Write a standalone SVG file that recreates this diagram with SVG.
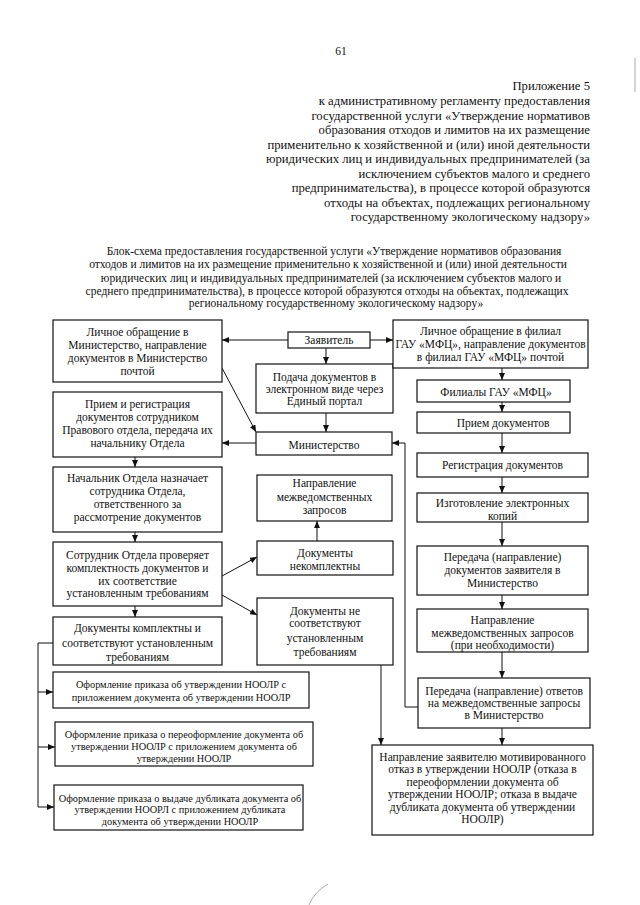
<svg xmlns="http://www.w3.org/2000/svg" width="640" height="905" viewBox="0 0 640 905">
<defs>
<marker id="ah" markerWidth="7" markerHeight="6" refX="7" refY="3" orient="auto" markerUnits="userSpaceOnUse"><path d="M0,0 L7,3 L0,6 z" fill="#111"/></marker>
<style>
.b{fill:#fff;stroke:#111;stroke-width:1.2}
.t{font-family:"Liberation Serif","Times New Roman",serif;font-size:11.5px;fill:#111;text-anchor:middle}
.h{font-family:"Liberation Serif","Times New Roman",serif;font-size:12.7px;fill:#111;text-anchor:end}
.ti{font-family:"Liberation Serif","Times New Roman",serif;font-size:11.5px;fill:#111;text-anchor:middle}
.s{font-size:10.3px}
.c{fill:none;stroke:#111;stroke-width:1}
.a{marker-end:url(#ah)}
</style>
</defs>
<rect width="640" height="905" fill="#fff"/>
<g id="artifacts" fill="none" stroke="#aaa" stroke-width="1">
<path d="M635,58 V92"/>
<path d="M328,884 Q314,892 309,905"/>
</g>
<g id="header">
<text class="ti" x="341" y="55" font-size="13">61</text>
<text class="h" x="590" y="89.5">Приложение 5</text>
<text class="h" x="590" y="105">к административному регламенту предоставления</text>
<text class="h" x="590" y="119.5">государственной услуги «Утверждение нормативов</text>
<text class="h" x="590" y="134">образования отходов и лимитов на их размещение</text>
<text class="h" x="590" y="148.5">применительно к хозяйственной и (или) иной деятельности</text>
<text class="h" x="590" y="163">юридических лиц и индивидуальных предпринимателей (за</text>
<text class="h" x="590" y="177.5">исключением субъектов малого и среднего</text>
<text class="h" x="590" y="192">предпринимательства), в процессе которой образуются</text>
<text class="h" x="590" y="206.5">отходы на объектах, подлежащих региональному</text>
<text class="h" x="590" y="221">государственному экологическому надзору»</text>
</g>
<g id="title">
<text class="ti" x="334" y="255">Блок-схема предоставления государственной услуги «Утверждение нормативов образования</text>
<text class="ti" x="328" y="268">отходов и лимитов на их размещение применительно к хозяйственной и (или) иной деятельности</text>
<text class="ti" x="331" y="282">юридических лиц и индивидуальных предпринимателей (за исключением субъектов малого и</text>
<text class="ti" x="327" y="295">среднего предпринимательства), в процессе которой образуются отходы на объектах, подлежащих</text>
<text class="ti" x="336" y="307">региональному государственному экологическому надзору»</text>
</g>
<g id="connectors">
<path class="c a" d="M288,340 H222"/>
<path class="c a" d="M370,340 H393"/>
<path class="c a" d="M326,348 V364"/>
<path class="c a" d="M326,413 V432"/>
<path class="c a" d="M222,368 L256,432"/>
<path class="c a" d="M256,443 H222"/>
<path class="c a" d="M418,707 H405 V443 H392"/>
<path class="c a" d="M135,457 V467"/>
<path class="c a" d="M135,532 V542"/>
<path class="c a" d="M135,606 V617"/>
<path class="c a" d="M317,541 V521"/>
<path class="c a" d="M222,576 L257,557"/>
<path class="c a" d="M222,595 L257,615"/>
<path class="c a" d="M381,665 V745"/>
<path class="c" d="M53,643 H38 V807"/>
<path class="c a" d="M38,692 H53"/>
<path class="c a" d="M38,747 H55"/>
<path class="c a" d="M38,807 H54"/>
<path class="c a" d="M502,368 V380"/>
<path class="c a" d="M502,402 V412"/>
<path class="c a" d="M502,433 V453"/>
<path class="c a" d="M502,477 V493"/>
<path class="c a" d="M502,522 V546"/>
<path class="c a" d="M502,595 V609"/>
<path class="c a" d="M502,652 V678"/>
<path class="c a" d="M502,728 V745"/>
</g>
<g id="n-lichnoe-min">
<rect class="b" x="53" y="320" width="169" height="62"/>
<text class="t" x="137.5" y="336">Личное обращение в</text>
<text class="t" x="137.5" y="349">Министерство, направление</text>
<text class="t" x="137.5" y="362">документов в Министерство</text>
<text class="t" x="137.5" y="375">почтой</text>
</g>
<g id="n-priem-reg">
<rect class="b" x="53" y="392" width="169" height="65"/>
<text class="t" x="137.5" y="408">Прием и регистрация</text>
<text class="t" x="137.5" y="421">документов сотрудником</text>
<text class="t" x="137.5" y="434">Правового отдела, передача их</text>
<text class="t" x="137.5" y="447">начальнику Отдела</text>
</g>
<g id="n-nachalnik">
<rect class="b" x="53" y="467" width="169" height="65"/>
<text class="t" x="137.5" y="482">Начальник Отдела назначает</text>
<text class="t" x="137.5" y="495">сотрудника Отдела,</text>
<text class="t" x="137.5" y="508">ответственного за</text>
<text class="t" x="137.5" y="521">рассмотрение документов</text>
</g>
<g id="n-sotrudnik">
<rect class="b" x="53" y="542" width="169" height="64"/>
<text class="t" x="137.5" y="559">Сотрудник Отдела проверяет</text>
<text class="t" x="137.5" y="572">комплектность документов и</text>
<text class="t" x="137.5" y="585">их соответствие</text>
<text class="t" x="137.5" y="597">установленным требованиям</text>
</g>
<g id="n-komplektny">
<rect class="b" x="53" y="617" width="169" height="48"/>
<text class="t" x="137.5" y="632" font-size="12">Документы комплектны и</text>
<text class="t" x="137.5" y="647">соответствуют установленным</text>
<text class="t" x="137.5" y="661" font-size="13">требованиям</text>
</g>
<g id="n-prikaz-utv">
<rect class="b" x="53" y="672" width="256" height="36"/>
<text class="t s" x="181" y="688">Оформление приказа об утверждении НООЛР с</text>
<text class="t s" x="181" y="701">приложением документа об утверждении НООЛР</text>
</g>
<g id="n-prikaz-pereof">
<rect class="b" x="55" y="722" width="258" height="44"/>
<text class="t s" x="184" y="738">Оформление приказа о переоформление документа об</text>
<text class="t s" x="184" y="750">утверждении НООЛР с приложением документа об</text>
<text class="t s" x="184" y="762">утверждении НООЛР</text>
</g>
<g id="n-prikaz-dubl">
<rect class="b" x="54" y="785" width="249" height="45"/>
<text class="t s" x="180" y="802" font-size="10.1">Оформление приказа о выдаче дубликата документа об</text>
<text class="t s" x="180" y="813">утверждении НООРЛ с приложением дубликата</text>
<text class="t s" x="180" y="825">документа об утверждении НООЛР</text>
</g>
<g id="n-zayavitel">
<rect class="b" x="288" y="332" width="82" height="16"/>
<text class="t" x="329" y="344">Заявитель</text>
</g>
<g id="n-podacha">
<rect class="b" x="256" y="364" width="137" height="49"/>
<text class="t" x="324.5" y="381">Подача документов в</text>
<text class="t" x="324.5" y="393">электронном виде через</text>
<text class="t" x="324.5" y="405">Единый портал</text>
</g>
<g id="n-ministerstvo">
<rect class="b" x="256" y="432" width="136" height="23"/>
<text class="t" x="324" y="448.5" font-size="13">Министерство</text>
</g>
<g id="n-napr-zapr">
<rect class="b" x="257" y="475" width="135" height="46"/>
<text class="t" x="324.5" y="487">Направление</text>
<text class="t" x="324.5" y="501">межведомственных</text>
<text class="t" x="324.5" y="514">запросов</text>
</g>
<g id="n-nekomplektny">
<rect class="b" x="257" y="541" width="136" height="34"/>
<text class="t" x="325" y="557">Документы</text>
<text class="t" x="325" y="570">некомплектны</text>
</g>
<g id="n-ne-sootv">
<rect class="b" x="257" y="598" width="136" height="67"/>
<text class="t" x="325" y="615" font-size="12">Документы не</text>
<text class="t" x="325" y="627" font-size="10.5">соответствуют</text>
<text class="t" x="325" y="642" font-size="13.5">установленным</text>
<text class="t" x="325" y="656" font-size="13.5">требованиям</text>
</g>
<g id="n-lichnoe-mfc">
<rect class="b" x="393" y="320" width="195" height="48"/>
<text class="t" x="490.5" y="335">Личное обращение в филиал</text>
<text class="t" x="490.5" y="348">ГАУ «МФЦ», направление документов</text>
<text class="t" x="490.5" y="361">в филиал ГАУ «МФЦ» почтой</text>
</g>
<g id="n-filialy">
<rect class="b" x="417" y="380" width="153" height="22"/>
<text class="t" x="496" y="395.5" font-size="12">Филиалы ГАУ «МФЦ»</text>
</g>
<g id="n-priem">
<rect class="b" x="417" y="412" width="153" height="21"/>
<text class="t" x="503" y="427">Прием документов</text>
</g>
<g id="n-registr">
<rect class="b" x="417" y="453" width="171" height="24"/>
<text class="t" x="502.5" y="469">Регистрация документов</text>
</g>
<g id="n-izgotovl">
<rect class="b" x="417" y="493" width="171" height="29"/>
<text class="t" x="502.5" y="507">Изготовление электронных</text>
<text class="t" x="502.5" y="520">копий</text>
</g>
<g id="n-peredacha">
<rect class="b" x="417" y="546" width="171" height="49"/>
<text class="t" x="502.5" y="561">Передача (направление)</text>
<text class="t" x="502.5" y="574">документов заявителя в</text>
<text class="t" x="502.5" y="587">Министерство</text>
</g>
<g id="n-napr-zapr-neobh">
<rect class="b" x="417" y="609" width="171" height="43"/>
<text class="t" x="502.5" y="624">Направление</text>
<text class="t" x="502.5" y="637">межведомственных запросов</text>
<text class="t" x="502.5" y="649">(при необходимости)</text>
</g>
<g id="n-peredacha-otv">
<rect class="b" x="418" y="678" width="172" height="50"/>
<text class="t" x="504" y="695">Передача (направление) ответов</text>
<text class="t" x="504" y="707">на межведомственные запросы</text>
<text class="t" x="504" y="719">в Министерство</text>
</g>
<g id="n-otkaz">
<rect class="b" x="372" y="745" width="221" height="90"/>
<text class="t" x="482.5" y="761">Направление заявителю мотивированного</text>
<text class="t" x="482.5" y="773">отказ в утверждении НООЛР (отказа в</text>
<text class="t" x="482.5" y="786">переоформлении документа об</text>
<text class="t" x="482.5" y="798">утверждении НООЛР; отказа в выдаче</text>
<text class="t" x="482.5" y="811">дубликата документа об утверждении</text>
<text class="t" x="482.5" y="823">НООЛР)</text>
</g>
</svg>
